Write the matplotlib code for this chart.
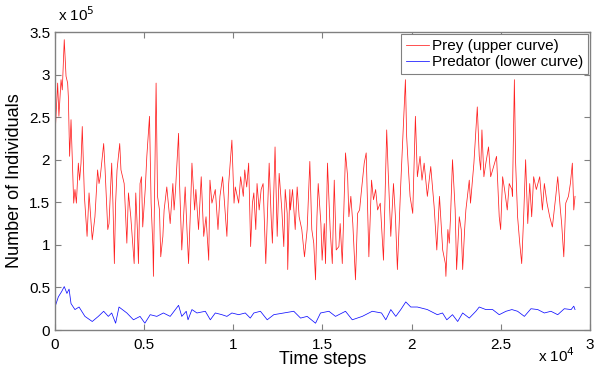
import matplotlib
matplotlib.use("Agg")
from matplotlib import pyplot
from matplotlib.ticker import FuncFormatter
import numpy as np

pyplot.rcParams["font.family"] = ["Liberation Sans", "DejaVu Sans"]

# prey population (individuals / 1e5)
prey_t = [0, 150, 220, 340, 410, 520, 620, 710, 750, 820, 900, 1050, 1120, 1200,
          1310, 1380, 1460, 1530, 1650, 1800, 1910, 2090, 2240, 2390, 2470, 2540,
          2730, 2810, 2960, 3030, 3180, 3250, 3330, 3400, 3480, 3630, 3700,
          3880, 4030, 4120, 4250, 4440, 4530, 4620, 4680, 4770, 4850, 4920, 5060,
          5150, 5300, 5390, 5490, 5520, 5670, 5750, 5860, 5930, 6050, 6120, 6270,
          6460, 6610, 6680, 6760, 6930, 6980, 7110, 7300,
          7400, 7490, 7610, 7680, 7830, 7900, 8050, 8200, 8340, 8470, 8620, 8690,
          8800, 8990, 9140, 9250, 9400, 9640, 9740, 9920, 10040, 10110, 10300,
          10410, 10560, 10640, 10750, 10860, 10970,
          11070, 11150, 11260, 11330, 11450, 11560, 11670, 11820, 12010, 12120,
          12190, 12340, 12460, 12570, 12720, 12830, 12910, 13020, 13050, 13170,
          13200, 13320, 13470, 13580, 13690, 13840, 13990, 14140, 14290, 14400,
          14510, 14610,
          14690, 14760, 14910, 14980, 15100, 15170, 15280, 15430, 15550, 15660,
          15770, 15920, 15990, 16110, 16290, 16410, 16480, 16590, 16700, 16850,
          16970, 17080, 17190, 17340, 17450, 17600, 17750, 17860, 17980, 18090,
          18240,
          18420, 18600, 18680, 18830, 18980, 19090, 19200, 19390, 19650, 19720,
          19800, 19910, 20060, 20210, 20320, 20470, 20580, 20700, 20880, 21070,
          21260, 21410, 21560, 21740, 21890,
          21920, 22030, 22110, 22180, 22290, 22440, 22520, 22670, 22780, 22860,
          22970, 23040, 23230, 23300, 23490, 23680, 23790, 23870, 23940, 24050,
          24160, 24310, 24430, 24540, 24760, 24910, 24990, 25100, 25210, 25360,
          25470, 25620,
          25650, 25760, 25830, 25940, 26060, 26170, 26280, 26390, 26510, 26620,
          26730, 26840, 26990, 27180, 27330, 27440, 27590, 27740, 27890, 28080,
          28190, 28340, 28410, 28530, 28640, 28790, 28900, 29010, 29090, 29160]
prey_v = [2.27, 2.90, 2.51, 2.94, 2.82, 3.41, 2.98, 2.90, 2.74, 2.04, 2.47, 1.49, 1.65, 1.49,
          1.96, 1.76, 1.96, 2.39, 1.57, 1.10, 1.61, 1.06, 1.33, 1.88, 1.72, 1.80,
          2.19, 1.88, 1.18, 1.25, 1.96, 1.49, 0.78, 1.49, 1.88, 2.19, 1.88,
          1.72, 1.02, 1.61, 1.33, 0.78, 1.61, 1.18, 0.78, 1.72, 1.80, 1.21, 1.65,
          2.04, 2.51, 1.49, 0.98, 0.63, 2.90, 1.57, 1.41, 0.86, 1.10, 1.41, 1.68,
          1.25, 1.72, 1.41, 1.65, 2.31, 1.76, 0.94, 1.68,
          1.18, 0.78, 1.49, 1.96, 1.41, 1.65, 1.18, 1.80, 1.10, 1.33, 0.82, 1.76,
          1.49, 1.65, 1.18, 1.57, 1.80, 1.10, 1.72, 2.23, 1.49, 1.68, 1.49,
          1.80, 1.57, 1.88, 1.68, 1.96, 0.98,
          1.49, 1.61, 1.18, 1.72, 1.41, 1.65, 1.72, 0.78, 1.96, 1.33,
          1.02, 2.15, 1.10, 1.84, 1.41, 0.98, 1.65, 1.37, 0.71, 1.65,
          1.41, 1.65, 1.18, 1.68, 1.33, 1.18, 0.86, 1.18, 1.98, 1.18,
          1.02, 0.59,
          1.33, 1.72, 1.25, 0.82, 1.25, 0.78, 1.96, 1.18, 0.78, 1.76,
          0.94, 0.98, 1.25, 0.78, 2.08, 1.80, 1.33, 1.57, 1.25, 0.59,
          1.37, 1.41, 1.65, 1.96, 2.08, 0.86, 1.76, 1.53, 1.65, 1.41,
          1.49,
          0.82, 2.35, 1.88, 1.10, 1.72, 1.33, 0.71, 1.72, 2.94, 2.27,
          1.96, 1.57, 1.37, 2.51, 1.80, 2.04, 1.76, 1.96, 1.57, 1.92,
          1.45, 0.94, 1.57, 0.94, 0.78,
          0.63, 1.18, 1.02, 1.33, 2.00, 1.41, 0.71, 1.33, 1.18, 0.71,
          1.18, 1.41, 1.76, 1.49, 1.96, 2.62, 2.04, 1.88, 2.35, 1.80,
          1.96, 2.15, 1.80, 1.88, 2.04, 1.33, 1.18, 1.80, 1.65, 1.41,
          1.72, 1.65,
          1.57, 2.94, 1.96, 1.33, 1.02, 0.78, 1.33, 2.00, 1.25, 1.72,
          1.33, 1.80, 1.65, 1.80, 1.41, 1.72, 1.49, 1.33, 1.21, 1.57,
          1.80, 1.41, 1.25, 0.86, 1.49, 1.57, 1.72, 1.96, 1.41, 1.57]

# predator population (individuals / 1e5)
pred_t = [0, 190, 370, 520, 670, 790, 900, 1120, 1350, 1680, 2090, 2430, 2730,
          2990, 3180, 3400, 3590, 4030, 4400, 4770, 5040, 5340, 5710, 6080, 6460,
          6930, 7110, 7360, 7460, 7680, 7960, 8430, 8710, 8990, 9360, 9640, 9920,
          10300, 10670, 10950, 11150, 11520, 11900, 12270, 12830, 13390, 13770,
          14140, 14610, 14890, 15360, 15730, 16290, 16670, 17230, 17790, 18310,
          18550, 18830, 19110, 19390, 19670, 19950, 20320, 20880, 21440, 21730,
          21970, 22290, 22580, 22860, 23230, 23600, 23790, 24160, 24540, 24910,
          25290, 25620, 25940, 26320, 26690, 27070, 27440, 27810, 28190, 28560,
          28940, 29090, 29160]
pred_v = [0.27, 0.39, 0.45, 0.51, 0.43, 0.48, 0.31, 0.24, 0.27, 0.16, 0.10, 0.16, 0.22,
          0.16, 0.20, 0.08, 0.27, 0.20, 0.12, 0.16, 0.08, 0.18, 0.16, 0.20, 0.16,
          0.29, 0.16, 0.22, 0.12, 0.24, 0.20, 0.22, 0.12, 0.20, 0.18, 0.16, 0.20,
          0.18, 0.20, 0.14, 0.20, 0.22, 0.12, 0.18, 0.20, 0.22, 0.14,
          0.16, 0.08, 0.20, 0.22, 0.16, 0.22, 0.12, 0.16, 0.22, 0.20,
          0.12, 0.24, 0.16, 0.24, 0.33, 0.27, 0.27, 0.24, 0.18, 0.20,
          0.12, 0.18, 0.10, 0.20, 0.14, 0.22, 0.27, 0.24, 0.24, 0.18,
          0.22, 0.24, 0.22, 0.16, 0.25, 0.24, 0.20, 0.22, 0.18, 0.25,
          0.24, 0.28, 0.24]

fig = pyplot.figure(figsize=(5.95, 3.67), dpi=100)
ax = fig.add_axes([0.0924, 0.1008, 0.8992, 0.812])

ax.plot(prey_t, np.array(prey_v) * 1e5, color="#ff2020", linewidth=0.55,
        label="Prey (upper curve)")
ax.plot(pred_t, np.array(pred_v) * 1e5, color="#1010ff", linewidth=0.55,
        label="Predator (lower curve)")

ax.set_xlim(0, 30000)
ax.set_ylim(0, 350000)
ax.set_xticks(np.arange(0, 30001, 5000))
ax.set_yticks(np.arange(0, 350001, 50000))
ax.xaxis.set_major_formatter(FuncFormatter(lambda v, p: "%g" % (v / 1e4)))
ax.yaxis.set_major_formatter(FuncFormatter(lambda v, p: "%g" % (v / 1e5)))
ax.tick_params(direction="in", top=True, right=True, labelsize=11, length=4,
               color="#808080")
ax.tick_params(axis="x", pad=6)
for s in ax.spines.values():
    s.set_color("#808080")
    s.set_linewidth(1.0)

ax.set_xlabel("Time steps", fontsize=13, labelpad=-1)
ax.set_ylabel("Number of Individuals", fontsize=13, labelpad=4)

fig.text(0.097, 0.935, r"x 10$^5$", fontsize=11, ha="left", va="bottom")
fig.text(0.905, 0.006, r"x 10$^4$", fontsize=11, ha="left", va="bottom")

leg = ax.legend(loc="upper right", fontsize=11, fancybox=False, framealpha=1,
                edgecolor="#808080", handlelength=1.5, borderpad=0.3,
                labelspacing=0.15, handletextpad=0.2, borderaxespad=0.15)
leg.get_frame().set_linewidth(0.8)

pyplot.savefig("out.png", dpi=100)
